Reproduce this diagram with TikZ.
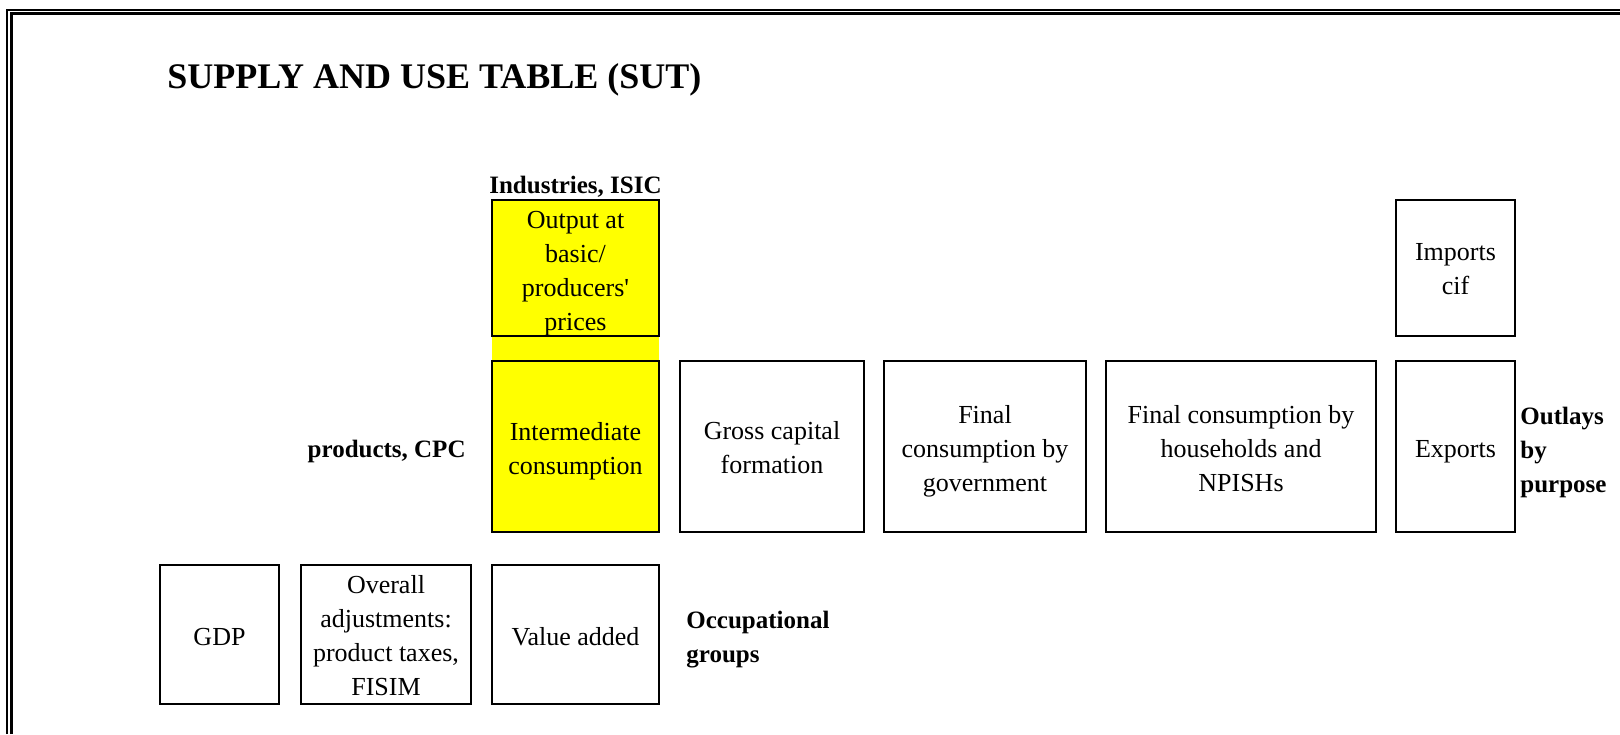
\documentclass[tikz,border=0pt]{standalone}
\usepackage{fontspec}
\setmainfont{Liberation Serif}
\definecolor{hilite}{RGB}{255,255,0}
% invisible strut that pushes the first line of a cell downwards
\newcommand{\topstrut}[1]{\rule{0pt}{#1}}
\begin{document}
\begin{tikzpicture}[x=0.5pt,y=-0.5pt,
  cell/.style={draw=black, line width=1pt, inner sep=0pt, align=center,
    font=\fontsize{13}{17}\selectfont},
  yellowcell/.style={cell, fill=hilite},
  drop/.style={execute at begin node={\rule{0pt}{#1}}},
  heading/.style={inner sep=0pt, font=\fontsize{12.5}{17}\selectfont\bfseries},
  outerline/.style={line width=1pt},
  innerline/.style={line width=1.5pt}]
\useasboundingbox (0,0) rectangle (1620,734);

% double frame along the top and left edges
\draw[outerline] (7,734) -- (7,10) -- (1620,10);
\draw[innerline] (11.5,734) -- (11.5,13.5) -- (1620,13.5);

% title
\node[inner sep=0pt, anchor=base west, font=\fontsize{18}{22}\selectfont\bfseries]
  (title) at (167,88) {SUPPLY AND USE TABLE (SUT)};

% yellow industries column
\fill[hilite] (492,200) rectangle (659,532);
\node[heading, anchor=base] (isic) at (575.5,193) {Industries, ISIC};
\node[yellowcell, minimum width=83.5pt, minimum height=68pt] (out) at (575.5,268)
  {\topstrut{13.9pt}Output at\\basic/\\producers\textquotesingle\\prices};
\node[yellowcell, minimum width=83.5pt, minimum height=85.5pt] (ic) at (575.5,446.5)
  {\topstrut{13.9pt}Intermediate\\consumption};

% final uses row
\node[cell, minimum width=92pt, minimum height=85.5pt] (gcf) at (772,446.5)
  {\topstrut{10.4pt}Gross capital\\formation};
\node[cell, minimum width=101pt, minimum height=85.5pt] (gov) at (985,446.5)
  {\topstrut{13.9pt}Final\\consumption by\\government};
\node[cell, minimum width=135pt, minimum height=85.5pt] (hh) at (1241,446.5)
  {\topstrut{10.9pt}Final consumption by\\households and\\NPISHs};
\node[cell, drop=13.9pt, minimum width=59.5pt, minimum height=85.5pt] (exp) at (1455.5,446.5)
  {Exports};
\node[cell, minimum width=59.5pt, minimum height=68pt] (imp) at (1455.5,268)
  {\topstrut{9.9pt}Imports\\cif};

% value added row
\node[cell, drop=11.6pt, minimum width=59.5pt, minimum height=69.5pt] (gdp) at (219.5,634.5)
  {GDP};
\node[cell, minimum width=85pt, minimum height=69.5pt] (adj) at (386,634.5)
  {\topstrut{9.9pt}Overall\\adjustments:\\product taxes,\\FISIM};
\node[cell, drop=10.9pt, minimum width=83.5pt, minimum height=69.5pt] (va) at (575.5,634.5)
  {Value added};

% side headings
\node[heading, anchor=east] (cpc) at (466,451) {products, CPC};
\node[heading, anchor=west, align=left] (occ) at (686,640) {Occupational\\groups};
\node[heading, anchor=west, align=left] (purp) at (1520,452) {Outlays\\by\\purpose};
\end{tikzpicture}
\end{document}
